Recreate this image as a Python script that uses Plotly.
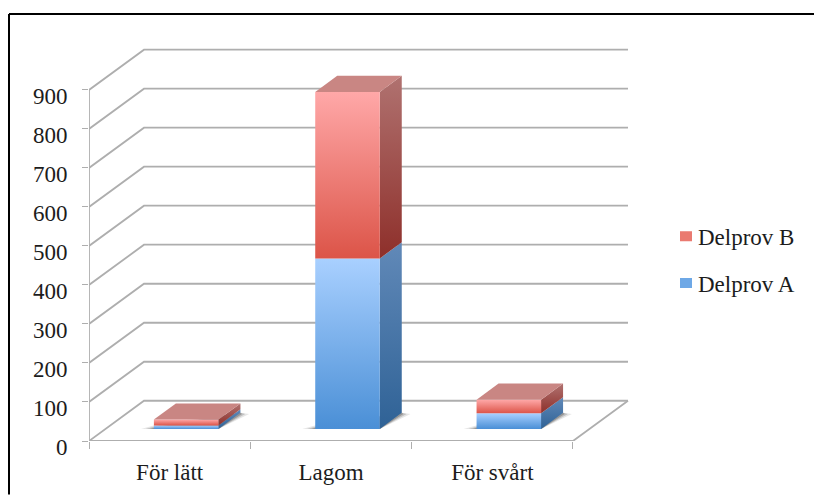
import plotly.graph_objects as go

# Survey answers per difficulty class, stacked by test part
categories = ["För lätt", "Lagom", "För svårt"]
delprov_a = [9, 437, 40]
delprov_b = [15, 427, 35]
value_ticks = [0, 100, 200, 300, 400, 500, 600, 700, 800, 900]

W, H = 814, 495
LEFT, RIGHT_BACK, FLOOR = 89.0, 629.0, 441.5
CAT_PX = 161.33
VAL_PX = 0.3905

# Oblique projection: full depth moves a point right and up on the page
DEPTH_X = 55 / CAT_PX
DEPTH_V = 40.3 / VAL_PX
BAR_HALF = 0.2
BAR_D0, BAR_D1 = 0.3, 0.7
N = len(categories)
GRID = "#aeaeae"


def pt(x, d, v):
    return x + d * DEPTH_X, v + d * DEPTH_V


def poly(corners, **style):
    xs, ys = zip(*[pt(*c) for c in corners])
    return go.Scatter(x=list(xs) + [xs[0]], y=list(ys) + [ys[0]], mode="lines", fill="toself",
                      line=dict(width=0), hoverinfo="skip", showlegend=False, **style)


def grad(top, bottom):
    return dict(type="vertical", colorscale=[[0, bottom], [1, top]])


def line(corners, width=1.8):
    xs, ys = zip(*[pt(*c) for c in corners])
    return go.Scatter(x=xs, y=ys, mode="lines", line=dict(color=GRID, width=width),
                      hoverinfo="skip", showlegend=False, cliponaxis=False)


fig = go.Figure()

# Walls and floor
for v in value_ticks:
    fig.add_trace(line([(0, 0, v), (0, 1, v), (N, 1, v)]))
fig.add_trace(line([(0, 0, 0), (0, 0, value_ticks[-1])]))
fig.add_trace(line([(0, 0, 0), (N, 0, 0), (N, 1, 0)]))

FRONT = {"a": grad("#a9d0ff", "#4a8fd6"), "b": grad("#ffa8a8", "#dc5448")}
SIDE = {"a": grad("#6189b8", "#2f6296"), "b": grad("#b07270", "#8e2f2a")}
TOP = "#c98683"

for i in range(N):
    x0, x1 = i + 0.5 - BAR_HALF, i + 0.5 + BAR_HALF
    # Soft floor shadow, built up from stacked translucent layers
    for grow, alpha in ((0.08, 0.12), (0.05, 0.2), (0.025, 0.3)):
        fig.add_trace(poly([(x0 - grow, BAR_D0, 0), (x1, BAR_D0, 0),
                            (x1 + grow * 0.8, BAR_D1 - 0.03, 0), (x1, BAR_D1, 0),
                            (x0, BAR_D0 + grow * 1.8, 0)],
                           fillcolor=f"rgba(50,50,50,{alpha})"))
    base = 0
    for key, val in (("a", delprov_a[i]), ("b", delprov_b[i])):
        top = base + val
        fig.add_trace(poly([(x1, BAR_D0, base), (x1, BAR_D1, base), (x1, BAR_D1, top), (x1, BAR_D0, top)],
                           fillgradient=SIDE[key]))
        fig.add_trace(poly([(x0, BAR_D0, base), (x1, BAR_D0, base), (x1, BAR_D0, top), (x0, BAR_D0, top)],
                           fillgradient=FRONT[key]))
        base = top
    fig.add_trace(poly([(x0, BAR_D0, base), (x1, BAR_D0, base), (x1, BAR_D1, base), (x0, BAR_D1, base)],
                       fillcolor=TOP))

# Legend entries: a thick dashed key leaves a small square next to the label
for name, group, colour in (("Delprov B", "b", "#ea7a70"), ("Delprov A", "a", "#6ea8e6")):
    fig.add_trace(go.Scatter(x=[None], y=[None], mode="lines", name=name, legendgroup=group,
                             line=dict(color=colour, width=12, dash="0px,17px,12px,40px")))

font = dict(family="Liberation Serif", size=23, color="#1c1c1c")
plot_w = RIGHT_BACK - LEFT

fig.update_layout(
    width=W, height=H,
    margin=dict(l=LEFT, r=W - RIGHT_BACK, t=0, b=H - FLOOR, pad=0, autoexpand=False),
    paper_bgcolor="white", plot_bgcolor="white", font=font,
    legend=dict(x=(658 - LEFT) / plot_w, y=(FLOOR - 215) / FLOOR, xanchor="left", yanchor="top",
                traceorder="grouped", tracegroupgap=14, font=font,
                bgcolor="rgba(0,0,0,0)"),
    xaxis=dict(range=[0, plot_w / CAT_PX], showgrid=False, zeroline=False, showline=False,
               tickmode="array", tickvals=[i + 0.5 for i in range(N)], ticktext=categories,
               ticks="", ticklabelstandoff=15,
               minor=dict(tickmode="array", tickvals=list(range(N + 1)), ticks="outside",
                          ticklen=7, tickwidth=1.4, tickcolor=GRID, showgrid=False)),
    yaxis=dict(range=[0, FLOOR / VAL_PX], showgrid=False, zeroline=False, showline=False,
               tickmode="array", tickvals=value_ticks, ticks="outside", ticklen=6, tickwidth=1.4,
               tickcolor=GRID, ticklabelstandoff=10, ticklabelshift=6),
    shapes=[
        dict(type="line", xref="paper", yref="paper", x0=(9 - LEFT) / plot_w, x1=(W - LEFT) / plot_w,
             y0=(FLOOR - 14) / FLOOR, y1=(FLOOR - 14) / FLOOR, line=dict(color="black", width=2)),
        dict(type="line", xref="paper", yref="paper", x0=(9 - LEFT) / plot_w, x1=(9 - LEFT) / plot_w,
             y0=(FLOOR - 14) / FLOOR, y1=(FLOOR - H) / FLOOR, line=dict(color="black", width=2)),
    ],
)

fig.write_html("out.html")
